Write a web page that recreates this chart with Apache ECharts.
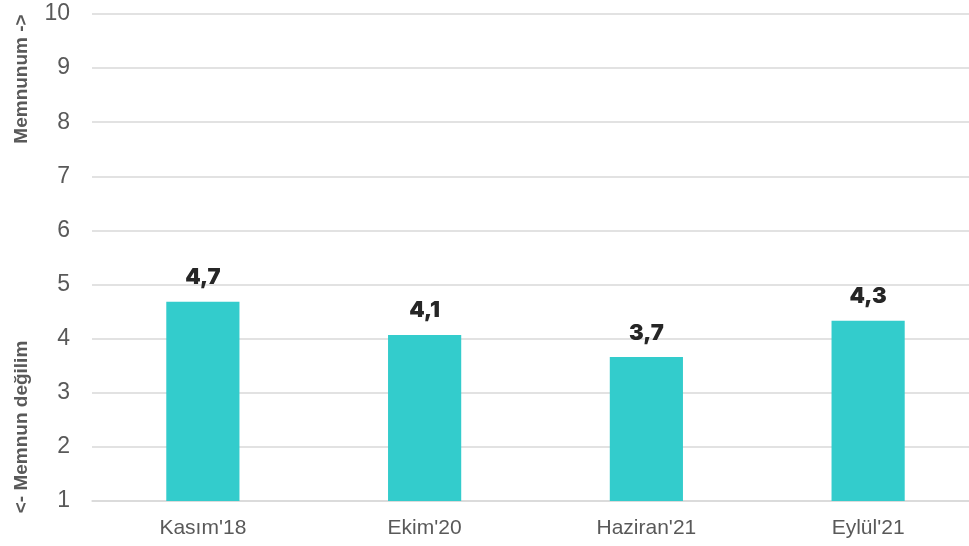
<!DOCTYPE html>
<html>
<head>
<meta charset="utf-8">
<script src="https://cdn.jsdelivr.net/npm/echarts@6/dist/echarts.min.js"></script>
<style>
  html, body { margin: 0; padding: 0; background: #fff; }
  #chart { width: 969px; height: 546px; }
</style>
</head>
<body>
<div id="chart"></div>
<script>
const categories = ['Kasım\'18', 'Ekim\'20', 'Haziran\'21', 'Eylül\'21']
const scores = [4.68, 4.07, 3.66, 4.33]
const yTicks = [1, 2, 3, 4, 5, 6, 7, 8, 9, 10]

const chart = echarts.init(document.getElementById('chart'))

const option = {
  animation: false,
  grid: {
    left: 92,
    width: 887,
    top: 14,
    bottom: 45,
    outerBoundsMode: 'none'
  },
  graphic: [
    {
      type: 'text',
      x: 22,
      y: 79,
      rotation: Math.PI / 2,
      style: {
        text: 'Memnunum ->',
        font: 'bold 19px "Liberation Sans", Arial, sans-serif',
        fill: '#595959',
        align: 'center',
        verticalAlign: 'middle'
      }
    },
    {
      type: 'text',
      x: 22,
      y: 427,
      rotation: Math.PI / 2,
      style: {
        text: '<- Memnun değilim',
        font: 'bold 19px "Liberation Sans", Arial, sans-serif',
        fill: '#595959',
        align: 'center',
        verticalAlign: 'middle'
      }
    }
  ],
  xAxis: {
    type: 'category',
    data: categories,
    axisLine: { show: true, lineStyle: { color: '#d9d9d9', width: 1.5 } },
    axisTick: { show: false },
    axisLabel: {
      color: '#595959',
      fontSize: 21,
      fontFamily: 'Liberation Sans, Arial, sans-serif',
      margin: 17
    }
  },
  yAxis: {
    type: 'value',
    min: yTicks[0],
    max: yTicks[yTicks.length - 1],
    interval: 1,
    axisLine: { show: false },
    axisTick: { show: false },
    splitLine: { lineStyle: { color: '#d9d9d9', width: 1.5 } },
    axisLabel: {
      color: '#595959',
      fontSize: 23,
      fontFamily: 'Liberation Sans, Arial, sans-serif',
      margin: 22
    }
  },
  series: [
    {
      type: 'bar',
      data: scores,
      barWidth: '33%',
      itemStyle: { color: '#33cccc' },
      label: {
        show: true,
        position: 'top',
        distance: 13,
        color: '#262626',
        fontSize: 22,
        fontWeight: 900,
        fontFamily: 'Inter, Liberation Sans, sans-serif',
        formatter: p => p.value.toFixed(1).replace('.', ',')
      }
    }
  ]
}

chart.setOption(option)
</script>
</body>
</html>
